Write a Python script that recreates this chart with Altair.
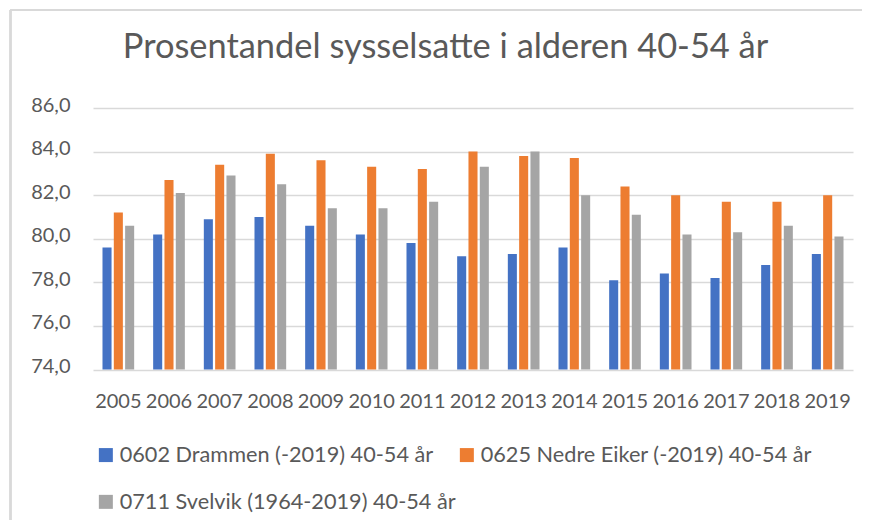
import altair as alt
import pandas as pd

years = [str(y) for y in range(2005, 2020)]
series = [
    "0602 Drammen (-2019) 40-54 år",
    "0625 Nedre Eiker (-2019) 40-54 år",
    "0711 Svelvik (1964-2019) 40-54 år",
]
drammen = [79.6, 80.2, 80.9, 81.0, 80.6, 80.2, 79.8, 79.2, 79.3, 79.6, 78.1, 78.4, 78.2, 78.8, 79.3]
nedre_eiker = [81.2, 82.7, 83.4, 83.9, 83.6, 83.3, 83.2, 84.0, 83.8, 83.7, 82.4, 82.0, 81.7, 81.7, 82.0]
svelvik = [80.6, 82.1, 82.9, 82.5, 81.4, 81.4, 81.7, 83.3, 84.0, 82.0, 81.1, 80.2, 80.3, 80.6, 80.1]
colors = ["#4472c4", "#ed7d31", "#a5a5a5"]
y_ticks = [74, 76, 78, 80, 82, 84, 86]

rows = []
for name, vals in zip(series, [drammen, nedre_eiker, svelvik]):
    for yr, v in zip(years, vals):
        rows.append({"year": yr, "series": name, "value": v})
df = pd.DataFrame(rows)

FONT = "Lato"
TXT = "#595959"

bars = alt.Chart(df).mark_bar().encode(
    x=alt.X("year:N", title=None, sort=years,
            scale=alt.Scale(paddingInner=0.33, paddingOuter=0.165),
            axis=alt.Axis(labelAngle=0, ticks=False, domain=False, labelPadding=22,
                          labelFontSize=20, labelColor=TXT, labelFont=FONT)),
    xOffset=alt.XOffset("series:N", sort=series,
                        scale=alt.Scale(paddingInner=0.2, paddingOuter=0.1)),
    y=alt.Y("value:Q", title=None,
            scale=alt.Scale(domain=[74, 86], nice=False, zero=False),
            axis=alt.Axis(values=y_ticks, ticks=False, domain=False,
                          labelExpr="replace(format(datum.value, '.1f'), '.', ',')",
                          labelPadding=23, labelFontSize=20, labelColor=TXT, labelFont=FONT,
                          labelOffset=-3,
                          gridColor="#d9d9d9", gridWidth=1.3)),
    y2=alt.datum(74),
    color=alt.Color("series:N", sort=series,
                    scale=alt.Scale(domain=series, range=colors),
                    legend=alt.Legend(title=None, orient="none", legendX=2, legendY=336,
                                      direction="horizontal",
                                      columns=2, columnPadding=-7, rowPadding=24,
                                      symbolType="square", symbolSize=196,
                                      symbolStrokeWidth=0, labelOffset=3, labelLimit=500,
                                      labelFontSize=21.7, labelColor=TXT, labelFont=FONT,
                                      padding=0)),
)

border_left = alt.Chart(df).mark_rule(color="#d9d9d9", strokeWidth=1.5).encode(
    x=alt.value(-82.5), y=alt.value(-98), y2=alt.value(430))
border_top = alt.Chart(df).mark_rule(color="#d9d9d9", strokeWidth=1.5).encode(
    x=alt.value(-82.5), x2=alt.value(790), y=alt.value(-98))

chart = alt.layer(bars, border_left, border_top).properties(
    width=760, height=261.5,
    autosize=alt.AutoSizeParams(type="none"),
    padding={"left": 85, "top": 100, "right": 9, "bottom": 150},
    background="white",
    title=alt.TitleParams("Prosentandel sysselsatte i alderen 40-54 år",
                          fontSize=34.4, font=FONT, color=TXT, fontWeight="normal",
                          anchor="middle", baseline="alphabetic", offset=-83, dx=-27.5),
).configure_view(stroke=None)

chart.save("out.html", embed_options={"renderer": "svg", "actions": False})
